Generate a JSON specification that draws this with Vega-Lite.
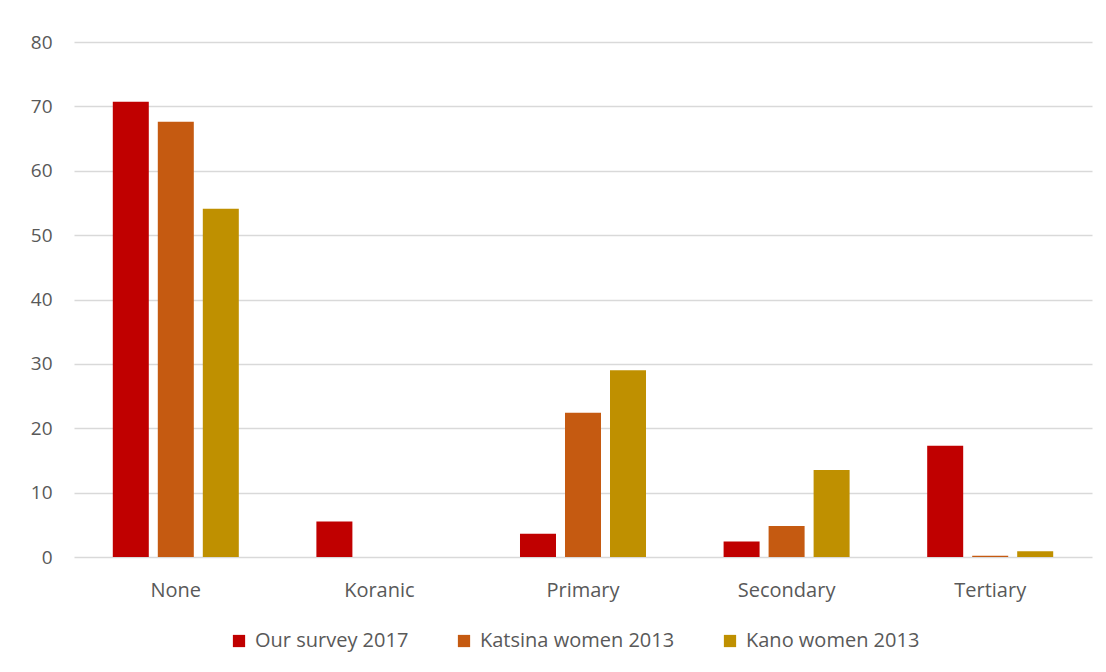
{
  "$schema": "https://vega.github.io/schema/vega-lite/v6.json",
  "width": 1018,
  "height": 515,
  "autosize": "none",
  "padding": {"left": 74, "top": 42, "right": 14, "bottom": 115},
  "background": "white",
  "data": {"values": [
    {"level": "None", "series": "Our survey 2017", "value": 70.7},
    {"level": "None", "series": "Katsina women 2013", "value": 67.6},
    {"level": "None", "series": "Kano women 2013", "value": 54.1},
    {"level": "Koranic", "series": "Our survey 2017", "value": 5.5},
    {"level": "Koranic", "series": "Katsina women 2013", "value": 0},
    {"level": "Koranic", "series": "Kano women 2013", "value": 0},
    {"level": "Primary", "series": "Our survey 2017", "value": 3.6},
    {"level": "Primary", "series": "Katsina women 2013", "value": 22.4},
    {"level": "Primary", "series": "Kano women 2013", "value": 29.0},
    {"level": "Secondary", "series": "Our survey 2017", "value": 2.4},
    {"level": "Secondary", "series": "Katsina women 2013", "value": 4.8},
    {"level": "Secondary", "series": "Kano women 2013", "value": 13.5},
    {"level": "Tertiary", "series": "Our survey 2017", "value": 17.3},
    {"level": "Tertiary", "series": "Katsina women 2013", "value": 0.2},
    {"level": "Tertiary", "series": "Kano women 2013", "value": 0.9}
  ]},
  "mark": {"type": "bar"},
  "encoding": {
    "x": {
      "field": "level", "type": "nominal",
      "sort": ["None", "Koranic", "Primary", "Secondary", "Tertiary"],
      "scale": {"paddingInner": 0, "paddingOuter": 0},
      "axis": {"title": null, "labelAngle": 0, "domain": false, "ticks": false, "labelPadding": 23, "labelFontSize": 20, "labelColor": "#595959", "labelFont": "Open Sans", "grid": false}
    },
    "xOffset": {
      "field": "series", "type": "nominal",
      "sort": ["Our survey 2017", "Katsina women 2013", "Kano women 2013"],
      "scale": {"paddingInner": 0.2, "paddingOuter": 0.862}
    },
    "y": {
      "field": "value", "type": "quantitative",
      "scale": {"domain": [0, 80]},
      "axis": {"title": null, "values": [0,10,20,30,40,50,60,70,80], "labelOverlap": false, "domain": false, "ticks": false, "labelPadding": 22, "labelFontSize": 19, "labelColor": "#595959", "labelFont": "Open Sans", "gridColor": "#D9D9D9", "gridWidth": 1.5}
    },
    "color": {
      "field": "series", "type": "nominal",
      "sort": ["Our survey 2017", "Katsina women 2013", "Kano women 2013"],
      "scale": {"domain": ["Our survey 2017", "Katsina women 2013", "Kano women 2013"], "range": ["#C00000", "#C55A11", "#BF9000"]},
      "legend": {
        "title": null, "orient": "none", "direction": "horizontal",
        "legendX": 155, "legendY": 589,
        "symbolType": "square", "symbolSize": 150, "symbolStrokeWidth": 0,
        "labelFontSize": 20, "labelColor": "#595959", "labelFont": "Open Sans", "labelLimit": 400,
        "columnPadding": 45, "labelOffset": 6
      }
    }
  },
  "config": {"view": {"stroke": null}}
}
